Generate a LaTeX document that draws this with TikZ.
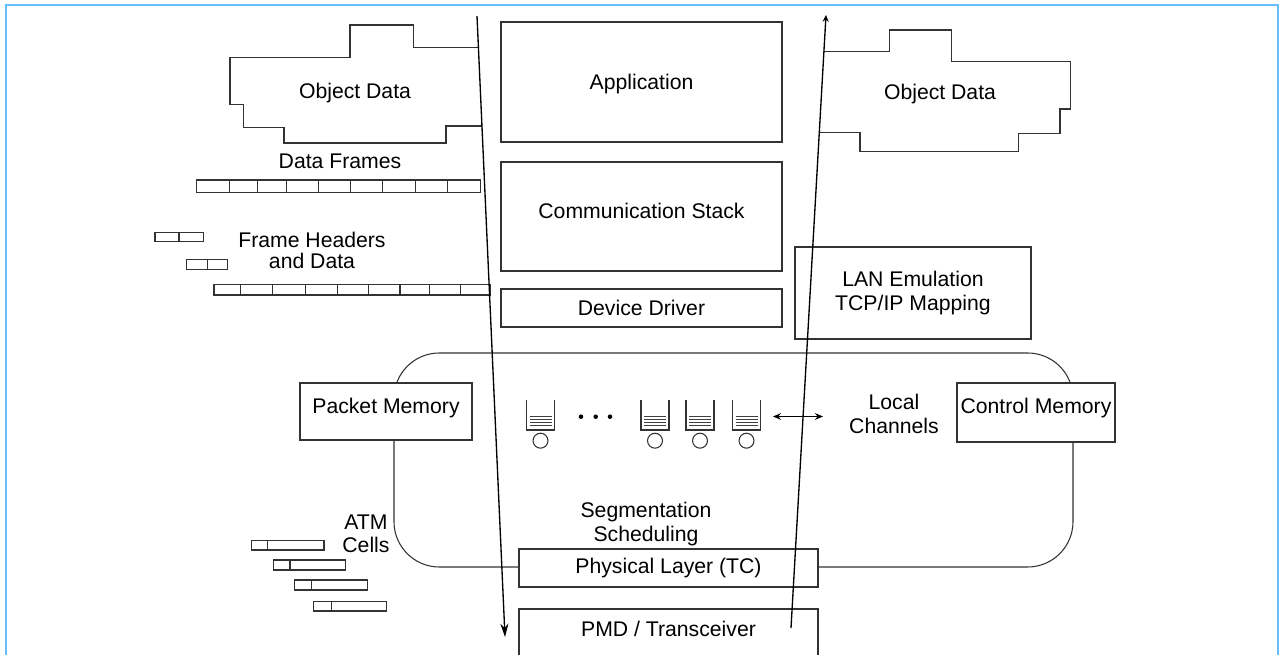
\documentclass[tikz,border=0pt]{standalone}
\usepackage{fontspec}
\setmainfont{Liberation Sans}
\usetikzlibrary{arrows.meta}
\definecolor{frameblue}{RGB}{102,190,255}
\begin{document}
\begin{tikzpicture}[x=0.75pt,y=-0.75pt,
  every node/.style={font=\fontsize{15.9}{18}\selectfont, inner sep=0pt, align=center},
  box/.style 2 args={draw=black!80, line width=0.8pt, fill=white,
     minimum width=#1*0.75pt, minimum height=#2*0.75pt},
  ln/.style={draw=black!80, line width=0.8pt},
  flow/.style={draw=black, line width=1pt},
  qline/.style={draw=black!75, line width=0.7pt},
  queue/.pic={
    \draw[ln] (-14,0) -- (-14,30) -- (14,30) -- (14,0);
    \foreach \yy in {16.5,19.5,22.5,25.5} \draw[qline] (-11,\yy) -- (11,\yy);
    \draw[ln] (0,40.7) circle (5.6pt);
  }]
\useasboundingbox (0,0) rectangle (1283,655);
\clip (0,0) rectangle (1283,655);

% outer frame
\draw[frameblue, line width=1.5pt] (5.5,660) -- (5.5,5.5) -- (1277.5,5.5) -- (1277.5,660);

% big rounded region
\draw[ln, rounded corners=34pt] (394,353) rectangle (1073,567);

% stack boxes
\node[box={281}{120}] (app) at (641.5,82) {};
\node (apptext) at (641.5,84) {Application};
\node[box={281}{109}] (comm) at (641.5,216.5) {};
\node (commtext) at (641.5,211) {Communication Stack};
\node[box={281}{38}] (dd) at (641.5,308) {Device Driver};
\node[box={236}{92}] (lan) at (913,293) {LAN Emulation\\TCP/IP Mapping};
\node[box={172}{57}] (pkt) at (386,411.5) {};
\node (pkttext) at (386,408) {Packet Memory};
\node[box={158}{59}] (ctl) at (1036,412.5) {};
\node (ctltext) at (1036,408) {Control Memory};
\node[box={299}{38}] (phy) at (668.5,568) {Physical Layer (TC)};
\node[box={299}{92}] (pmdbox) at (668.5,655) {};
\node (pmd) at (668.5,629) {PMD / Transceiver};

% left object data
\draw[ln] (479.3,47.7) -- (413.3,47.7) -- (413.3,25) -- (350,25) -- (350,57.7) -- (230,57.7)
  -- (230,104.3) -- (243.3,104.3) -- (243.3,127.7) -- (284,127.7) -- (284,143) -- (446,143)
  -- (446,126) -- (482,126);
\node (objl) at (355,93) {Object Data};

% right object data
\draw[ln] (824,51.7) -- (889.3,51.7) -- (889.3,30) -- (951.7,30) -- (951.7,61.7) -- (1070.7,61.7)
  -- (1070.7,109) -- (1060,109) -- (1060,133.3) -- (1018.3,133.3) -- (1018.3,151.7) -- (860,151.7)
  -- (860,132.7) -- (819,132.7);
\node (objr) at (940,94) {Object Data};

% data frames
\node (df) at (340,161) {Data Frames};
\draw[ln] (196.7,180) rectangle (480.7,192.3);
\foreach \xx in {229.3,257.3,286.7,318.3,350.7,382.7,415.7,447.3}
  \draw[ln] (\xx,180) -- (\xx,192.3);

% frame headers and data
\node[font=\fontsize{15.9}{15.8}\selectfont] (fhd) at (312,250) {Frame Headers\\and Data};
\draw[ln] (155,232.7) rectangle (203.3,241.7); \draw[ln] (179,232.7) -- (179,241.7);
\draw[ln] (186.7,259.3) rectangle (227.3,269.3); \draw[ln] (207.7,259.3) -- (207.7,269.3);
\draw[ln] (214,284.3) rectangle (490,295);
\foreach \xx in {240.7,272.7,305.7,337.7,368.7,400,429.3,460.7}
  \draw[ln] (\xx,284.3) -- (\xx,295);

% ATM cells
\node[font=\fontsize{15.9}{17.3}\selectfont] (atm) at (366,534) {ATM\\Cells};
\draw[ln] (251.7,540.7) rectangle (324,550); \draw[ln] (267.3,540.7) -- (267.3,550);
\draw[ln] (273.3,560) rectangle (345.7,570); \draw[ln] (290,560) -- (290,570);
\draw[ln] (294.3,580) rectangle (367.3,590); \draw[ln] (311.7,580) -- (311.7,590);
\draw[ln] (313.3,601.7) rectangle (386.7,611); \draw[ln] (331.7,601.7) -- (331.7,611);

% queues
\pic at (540.5,400) {queue};
\pic at (655,400) {queue};
\pic at (700,400) {queue};
\pic at (746.5,400) {queue};
\foreach \xx in {581,595.7,610} \fill (\xx,416.7) circle (1.7pt);

% local channels
\node (lc) at (894,414) {Local\\Channels};
\coordinate (q4) at (773,416.5);
\coordinate (lcw) at (823,416.5);
\draw[line width=0.8pt, {Stealth[length=6pt,width=5pt]}-{Stealth[length=6pt,width=5pt]}] (q4) -- (lcw);

% segmentation
\node (seg) at (646,524) {Segmentation\\Scheduling};

% flow arrows
\coordinate (ltop) at (477,16);
\coordinate (lbot) at (505,637);
\draw[flow, -{Stealth[length=10pt,width=6pt]}] (ltop) -- (lbot);
\coordinate (rbot) at (791,628);
\coordinate (rtop) at (826,15);
\draw[flow, -{Stealth[length=5pt,width=4.5pt]}] (rbot) -- (rtop);
\end{tikzpicture}
\end{document}
